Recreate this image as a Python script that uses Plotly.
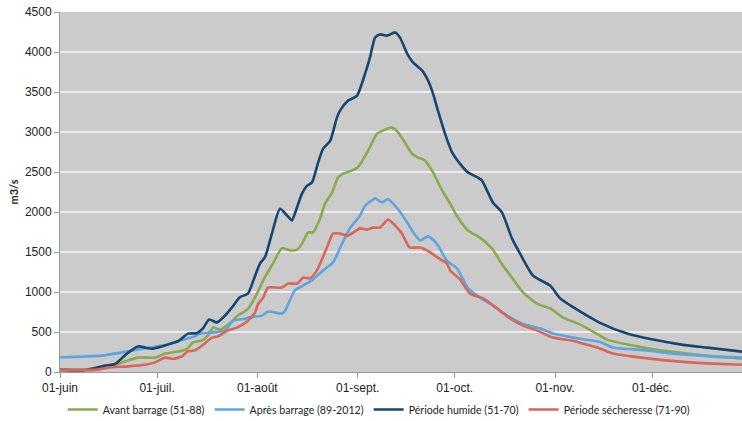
import plotly.graph_objects as go

# days since 01-juin
tick_days = [0, 30, 61, 92, 122, 153, 183]
tick_labels = ["01-juin", "01-juil.", "01-août", "01-sept.", "01-oct.", "01-nov.", "01-déc."]

avant_days = [0, 11.7, 16.4, 21, 24.1, 29.4, 32.5, 36.5, 39.3, 41.1, 43.9, 45.7, 47.3, 49.5, 51.9, 55, 58.1,
              60.9, 62.8, 65.8, 68.6, 71.1, 73.3, 74.8, 76.7, 78.2, 80.4, 81.9, 84.1, 85.9, 87.5, 90.3, 92.1,
              94.3, 95.8, 98, 100.5, 102.6, 104.5, 106.6, 108.8, 110.7, 112.8, 115.3, 118.1, 120.6, 122.7,
              126.1, 129.8, 133.5, 136.9, 139.7, 143.1, 147.4, 151.5, 155.5, 160.7, 166.9, 169.1, 177.1,
              185.5, 193.8, 201.9, 210.8]
avant_vals = [20, 30, 80, 145, 180, 180, 230, 255, 290, 370, 395, 455, 555, 530, 590, 705, 790,
              980, 1145, 1355, 1545, 1520, 1530, 1605, 1745, 1745, 1920, 2105, 2245, 2430, 2480, 2520, 2560,
              2700, 2810, 2980, 3030, 3055, 2995, 2870, 2730, 2680, 2645, 2495, 2270, 2105, 1950,
              1770, 1680, 1545, 1330, 1180, 995, 855, 795, 680, 595, 455, 405, 330,
              270, 230, 195, 170]

apres_days = [0, 13, 19.2, 25.3, 31.5, 36.5, 41.7, 43.3, 47, 51, 53.5, 57.2, 58.7, 62.4, 64.3, 68.6, 69.6,
              72.6, 75.1, 77.9, 81.3, 84.4, 87.2, 89.6, 92.7, 94.3, 96.4, 97.4, 99.5, 101.4, 104.2, 107.3,
              108.8, 111.3, 113.8, 116.5, 119.6, 122.7, 126.1, 129.8, 133.8, 138.2, 142.8, 148.4, 152.4,
              158.6, 160.7, 166.9, 170.9, 181.5, 189.5, 201.9, 210.8]
apres_vals = [185, 205, 245, 290, 330, 385, 445, 480, 495, 520, 640, 665, 685, 705, 755, 730, 770,
              1020, 1080, 1145, 1270, 1370, 1605, 1795, 1955, 2080, 2145, 2170, 2120, 2160, 2050, 1870,
              1770, 1645, 1695, 1600, 1390, 1295, 1050, 930, 830, 705, 605, 545, 480,
              430, 415, 375, 305, 270, 230, 195, 180]

humide_days = [0, 7.7, 13.9, 17, 20.7, 24.1, 28.4, 31.5, 36.5, 39.6, 42.3, 44.2, 46.1, 48.5, 51, 53.2, 55.6,
               58.1, 60, 61.8, 63.4, 65.5, 68, 70.2, 71.7, 72.6, 74.8, 76.4, 77.9, 79.8, 81.3, 83.5, 85.6,
               86.6, 89, 91.8, 94.3, 95.8, 97.4, 98.9, 101.1, 103.6, 105.1, 107.3, 109.1, 111.9, 113.8,
               115.3, 116.8, 119, 121.2, 123.6, 126.1, 129.2, 130.4, 133.8, 136.6, 139.7, 142.2, 146.2,
               151.5, 154.6, 158.6, 162.9, 166.9, 175.3, 183.3, 191.7, 200, 210.8]
humide_vals = [30, 25, 80, 100, 230, 320, 290, 320, 385, 480, 485, 545, 655, 620, 705, 810, 935,
               980, 1170, 1355, 1440, 1730, 2040, 1955, 1895, 1980, 2230, 2330, 2370, 2620, 2790, 2890, 3180,
               3270, 3390, 3455, 3730, 3930, 4180, 4220, 4205, 4245, 4180, 3980, 3870, 3770, 3640,
               3480, 3270, 2980, 2745, 2605, 2495, 2430, 2395, 2120, 1995, 1670, 1480, 1205,
               1080, 920, 810, 705, 615, 480, 405, 345, 305, 255]

seche_days = [0, 11.7, 14.8, 21, 26.3, 29.4, 32.5, 34.9, 37.7, 39.3, 41.7, 43.9, 47, 48.8, 51.9, 54.7, 57.8,
              60.3, 61.2, 62.8, 64.3, 68.6, 70.5, 73.3, 75.1, 77.3, 79.4, 82.5, 84.4, 86.6, 89, 92.7, 94.9,
              96.8, 98.9, 101.4, 104.2, 105.7, 107.6, 108.2, 111.3, 114.4, 117.5, 119.6, 120.6, 123.6,
              126.7, 130.8, 135.1, 139.1, 143.1, 147.4, 152.4, 158.6, 160.7, 166.9, 170.9, 181.5, 191.7,
              201.9, 210.8]
seche_vals = [30, 30, 55, 70, 90, 120, 180, 165, 195, 255, 270, 330, 430, 445, 520, 555, 630,
              745, 850, 930, 1055, 1055, 1105, 1105, 1180, 1170, 1270, 1555, 1730, 1730, 1705, 1795, 1780,
              1805, 1805, 1905, 1805, 1730, 1580, 1555, 1555, 1495, 1410, 1355, 1270, 1160,
              980, 920, 795, 670, 580, 520, 430, 390, 365, 295, 230, 170, 130,
              105, 90]

series = [
    ("Avant barrage (51-88)", avant_days, avant_vals, "#8BAA4C"),
    ("Après barrage (89-2012)", apres_days, apres_vals, "#5EA3E2"),
    ("Période humide (51-70)", humide_days, humide_vals, "#17466F"),
    ("Période sécheresse (71-90)", seche_days, seche_vals, "#D9655B"),
]

fig = go.Figure()
for name, xs, ys, col in series:
    fig.add_trace(go.Scatter(x=xs, y=ys, name=name, mode="lines",
                             line=dict(color=col, width=2.6, shape="spline", smoothing=0.6)))

fig.update_layout(
    width=742, height=421,
    margin=dict(l=60, r=0, t=12, b=49, autoexpand=False),
    paper_bgcolor="white",
    plot_bgcolor="#CBCBCB",
    font=dict(family="Liberation Sans, Arial", size=12, color="#222"),
    legend=dict(orientation="h", x=0.004, xanchor="left", y=-0.064, yanchor="top",
                font=dict(family="Lato", size=10.6, color="#222"), bgcolor="rgba(0,0,0,0)",
                itemwidth=30, tracegroupgap=0),
    showlegend=True,
)
fig.update_xaxes(range=[0, 210.8], tickvals=tick_days, ticktext=tick_labels, showgrid=False,
                 zeroline=False, showline=True, linecolor="#999", linewidth=1,
                 ticks="outside", ticklen=5, tickcolor="#999", tickfont=dict(size=12))
fig.update_yaxes(range=[0, 4500], dtick=500, showgrid=True, gridcolor="#EDEDED", gridwidth=1.5,
                 zeroline=False, showline=True, linecolor="#999", linewidth=1,
                 ticks="outside", ticklen=5, tickcolor="#999", tickfont=dict(size=12),
                 ticklabeloverflow="allow",
                 title=dict(text="<b>m3/s</b>", font=dict(family="Lato", size=11), standoff=4))

fig.write_html("out.html", config={"displayModeBar": False},
               post_script="document.body.style.margin='0';")
